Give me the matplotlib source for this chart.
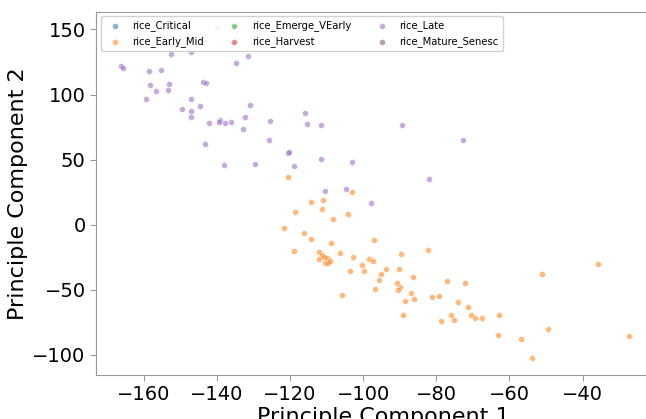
import numpy as np
import matplotlib
matplotlib.use("Agg")
import matplotlib.pyplot as plt

# PCA scores
late_pc1 = [-152.7, -147.2, -131.6, -134.7, -166.3, -165.7, -158.5, -155.4, -158.4, -153.2,
            -156.7, -153.4, -143.8, -143.0, -159.3, -147.1, -149.6, -147.1, -144.7, -147.1,
            -131.0, -142.3, -139.2, -139.4, -137.9, -136.1, -132.3, -133.0, -125.5, -116.0,
            -115.4, -111.5, -143.2, -125.7, -120.6, -120.2, -111.5, -138.0, -129.6, -119.0,
            -89.4, -72.8, -103.0, -81.9, -110.4, -104.7, -97.8, -139.9]
late_pc2 = [131.1, 132.6, 129.6, 124.0, 121.7, 120.4, 117.8, 118.8, 107.5, 108.1,
            102.9, 103.5, 109.6, 109.1, 96.3, 96.8, 89.1, 87.1, 91.2, 82.9,
            92.2, 78.3, 80.4, 78.9, 78.3, 78.9, 82.5, 73.7, 79.9, 86.0,
            77.3, 76.3, 62.0, 65.1, 55.3, 55.8, 50.2, 45.9, 47.0, 45.1,
            76.3, 65.1, 48.2, 35.3, 25.9, 27.6, 16.4, 151.1]

early_mid_pc1 = [-120.7, -103.0, -114.3, -111.0, -111.2, -118.7, -104.3, -108.3, -121.8, -116.3,
                 -114.3, -108.8, -97.1, -119.0, -112.1, -111.2, -110.7, -109.9, -112.1, -110.5,
                 -109.7, -109.2, -106.3, -102.8, -98.4, -97.3, -89.6, -82.3, -100.4, -103.6,
                 -99.7, -93.7, -90.2, -95.1, -95.6, -86.5, -90.7, -90.0, -90.5, -96.7,
                 -105.7, -87.0, -86.1, -88.5, -81.2, -79.2, -77.0, -72.3, -74.1, -71.4,
                 -75.9, -75.2, -78.8, -70.6, -69.5, -67.5, -63.0, -63.1, -89.1, -56.9,
                 -53.8, -51.2, -49.4, -35.7, -27.2]
early_mid_pc2 = [36.8, 25.1, 17.8, 18.8, 12.2, 9.6, 8.6, 4.6, -2.2, -6.1,
                 -11.2, -13.8, -11.8, -20.0, -21.0, -23.0, -25.0, -25.6, -26.1, -29.2,
                 -29.2, -28.1, -22.0, -25.0, -26.6, -27.6, -22.5, -19.4, -31.2, -35.3,
                 -35.8, -33.8, -33.8, -37.9, -42.5, -39.9, -44.5, -48.1, -50.2, -49.2,
                 -53.8, -52.7, -56.8, -58.8, -55.8, -54.8, -43.0, -45.0, -59.4, -63.4,
                 -69.6, -73.4, -73.7, -69.6, -71.7, -71.7, -69.1, -84.5, -69.6, -88.0,
                 -102.4, -38.0, -80.0, -30.3, -85.6]

classes = ["rice_Critical", "rice_Early_Mid", "rice_Emerge_VEarly",
           "rice_Harvest", "rice_Late", "rice_Mature_Senesc"]
colors = ["tab:blue", "tab:orange", "tab:green", "tab:red", "tab:purple", "tab:brown"]

points = {
    "rice_Early_Mid": (early_mid_pc1, early_mid_pc2),
    "rice_Late": (late_pc1, late_pc2),
}

fig = plt.figure(figsize=(6.46, 4.19), dpi=100)
# the original image is cropped: right spine sits past the edge
ax = fig.add_axes([96 / 646, 44 / 419, 574 / 646, 363 / 419])

for name, col in zip(classes, colors):
    xs, ys = points.get(name, ([], []))
    ax.scatter(xs, ys, s=18, color=col, alpha=0.55, edgecolors="white",
               linewidths=0.5, label=name)

ax.set_xlim(-173.1, -16.1)
ax.set_ylim(-115.4, 163.4)
ax.set_xticks(np.arange(-160, -39, 20))
ax.set_yticks(np.arange(-100, 151, 50))
ax.tick_params(labelsize=14, color="#999999", length=4)
for sp in ax.spines.values():
    sp.set_color("#999999")
ax.spines["right"].set_visible(False)

ax.set_xlabel("Principle Component 1", fontsize=16, labelpad=2)
ax.set_ylabel("Principle Component 2", fontsize=16, labelpad=3)

ax.legend(loc="upper left", ncol=3, fontsize=7.2, markerscale=1.0,
          borderaxespad=0.45, framealpha=0.9)

fig.savefig("out.png", dpi=100)
